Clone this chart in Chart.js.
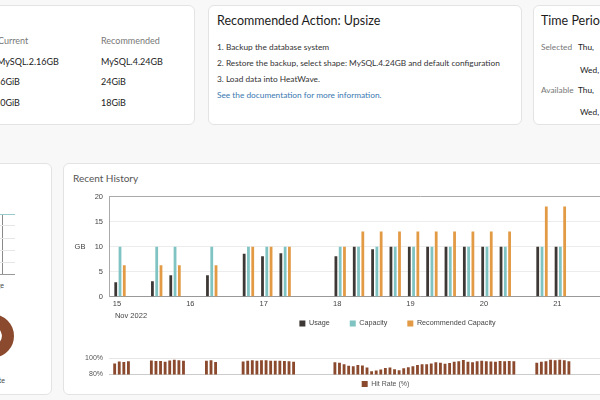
<!DOCTYPE html>
<html>
<head>
<meta charset="utf-8">
<script src="https://cdn.jsdelivr.net/npm/chart.js@4.4.1/dist/chart.umd.min.js"></script>
<style>
  html, body { margin: 0; padding: 0; }
  body { width: 600px; height: 400px; overflow: hidden; position: relative; background: #f8f8f8; font-family: Lato, "Noto Sans", sans-serif; color: #222; }
  .card { position: absolute; background: #fff; border: 1px solid #e3e3e3; border-radius: 6px; box-sizing: border-box; }
  .t { position: absolute; white-space: nowrap; line-height: 12px; }
  .lbl { color: #777; }
  canvas { position: absolute; }
</style>
</head>
<body>
<!-- tarjetas superiores -->
<div class="card" style="left:-20px; top:5px; width:215px; height:120px;"></div>
<div class="t lbl" style="left:-2px; top:35px; font-size:9px;">Current</div>
<div class="t lbl" style="left:101px; top:35px; font-size:9px;">Recommended</div>
<div class="t" style="left:-3px; top:56px; font-size:9px;">MySQL.2.16GB</div>
<div class="t" style="left:101px; top:56px; font-size:9px;">MySQL.4.24GB</div>
<div class="t" style="left:-5px; top:76px; font-size:9px;">16GiB</div>
<div class="t" style="left:101px; top:76px; font-size:9px;">24GiB</div>
<div class="t" style="left:-5px; top:97px; font-size:9px;">10GiB</div>
<div class="t" style="left:101px; top:97px; font-size:9px;">18GiB</div>

<div class="card" style="left:208px; top:5px; width:314px; height:120px;"></div>
<div class="t" style="left:217px; top:15px; font-size:12.5px; color:#1c1c1c;">Recommended Action: Upsize</div>
<div class="t" style="left:217px; top:41px; font-size:8.3px; color:#333;">1. Backup the database system</div>
<div class="t" style="left:217px; top:57px; font-size:8.3px; color:#333;">2. Restore the backup, select shape: MySQL.4.24GB and default configuration</div>
<div class="t" style="left:217px; top:73px; font-size:8.3px; color:#333;">3. Load data into HeatWave.</div>
<div class="t" style="left:217px; top:89px; font-size:8.3px; color:#3a78b0;">See the documentation for more information.</div>

<div class="card" style="left:533px; top:5px; width:120px; height:120px;"></div>
<div class="t" style="left:541px; top:15px; font-size:12.5px; color:#1c1c1c;">Time Period</div>
<div class="t lbl" style="left:541px; top:41px; font-size:8.3px;">Selected</div>
<div class="t" style="left:578px; top:41px; font-size:8.3px;">Thu,&nbsp;&nbsp;&nbsp;&nbsp;Nov 10, 2022</div>
<div class="t" style="left:580px; top:64px; font-size:8.3px;">Wed,&nbsp;&nbsp;&nbsp;Nov 23, 2022</div>
<div class="t lbl" style="left:541px; top:84px; font-size:8.3px;">Available</div>
<div class="t" style="left:578px; top:84px; font-size:8.3px;">Thu,&nbsp;&nbsp;&nbsp;&nbsp;Nov 10, 2022</div>
<div class="t" style="left:580px; top:106px; font-size:8.3px;">Wed,&nbsp;&nbsp;&nbsp;Nov 23, 2022</div>

<!-- tarjeta izquierda (recortada) -->
<div class="card" style="left:-20px; top:163px; width:72px; height:232px;"></div>
<canvas id="mini" width="132" height="64" style="left:-115px; top:212px;"></canvas>
<div class="t" style="left:-60px; width:64px; text-align:right; top:279px; font-size:7px; color:#444;">Usage</div>
<canvas id="dona" width="64" height="44" style="left:-40px; top:314px;"></canvas>
<div class="t" style="left:-60px; width:65px; text-align:right; top:374px; font-size:7px; color:#444;">Hit Rate</div>

<!-- historial reciente -->
<div class="card" style="left:63px; top:163px; width:720px; height:232px;"></div>
<div class="t" style="left:73px; top:172px; font-size:10px; color:#555;">Recent History</div>
<canvas id="historial" width="667" height="151" style="left:64px; top:186px;"></canvas>
<canvas id="aciertos" width="667" height="48" style="left:64px; top:348px;"></canvas>

<script>
// Datos (horas desde el 15 Nov 2022 00:00)
const sampleHours = [1, 13, 19, 31, 43, 49, 55, 73, 79, 85, 91, 97, 103, 109, 115, 121, 127, 139, 145];
const usageGB = [2.9, 3.1, 4.3, 4.3, 8.6, 8.1, 8.7, 8.1, 10, 9.5, 10, 10, 10, 10, 10, 10, 10, 10, 10];
const capacityGB = [10, 10, 10, 10, 10, 10, 10, 10, 10, 10, 10, 10, 10, 10, 10, 10, 10, 10, 10];
const recommendedGB = [6.3, 6.3, 6.3, 6.3, 10, 10, 10, 10, 13, 13, 13, 13, 13, 13, 13, 13, 13, 18, 18];
const dayTickHours = [0, 24, 48, 72, 96, 120, 144, 168, 192];
const dayTicks = ['15', '16', '17', '18', '19', '20', '21', '22', '23'];

const hitHours = [
  -0.75, 0.75, 2.25, 3.75, 11.25, 12.75, 14.25, 15.75, 17.25, 18.75, 20.25, 21.75,
  29.25, 30.75, 32.25, 41.25, 42.75, 44.25, 45.75, 47.25, 48.75, 50.25, 51.75,
  53.25, 54.75, 56.25, 57.75, 71.25, 72.75, 74.25, 75.75, 77.25, 78.75, 80.25, 81.75,
  83.25, 84.75, 86.25, 87.75, 89.25, 90.75, 92.25, 93.75, 95.25, 96.75, 98.25, 99.75,
  101.25, 102.75, 104.25, 105.75, 107.25, 108.75, 110.25, 111.75, 113.25, 114.75, 116.25, 117.75,
  119.25, 120.75, 122.25, 123.75, 125.25, 126.75, 128.25, 129.75,
  137.25, 138.75, 140.25, 141.75, 143.25, 144.75, 146.25, 147.75
];
const hitRate = [
  93.6, 95.8, 95.4, 96.2, 97.2, 96.6, 96.6, 95.5, 97.2, 98.0, 97.4, 96.8,
  96.8, 97.6, 95.2, 95.8, 97.0, 97.4, 97.0, 97.4, 97.4, 97.0, 97.0,
  97.0, 96.6, 96.2, 95.5, 95.1, 94.3, 92.5, 90.8, 90.0, 91.6, 91.0, 88.6,
  84.0, 85.0, 86.0, 88.0, 88.5, 86.5, 85.2, 87.8, 89.0, 90.2, 91.6, 92.5,
  92.5, 93.6, 95.1, 94.3, 93.2, 94.2, 95.5, 96.2, 97.8, 95.5, 95.0, 96.4,
  97.0, 96.4, 96.0, 95.6, 96.6, 96.2, 96.6, 96.2,
  94.3, 95.5, 96.2, 98.0, 97.4, 98.1, 97.4, 96.2
];

// panel izquierdo recortado
const miniSteps = [0, 1, 2, 3, 4, 5, 6, 7, 8, 9, 10];
const miniCapacity = [100, 100, 100, 100, 100, 100, 100, 100, 100, 100, 100];
const overallHitRate = [96.2, 3.8];

Chart.defaults.font.family = '"Liberation Sans", Arial, sans-serif';
Chart.defaults.color = '#444';

const xMin = -2.6;

function toPoints(xs, ys) {
  return xs.map(function(x, i) { return { x: x, y: ys[i] }; });
}

// "GB" y "Nov 2022" junto a los ejes
const notasEjes = {
  id: 'notasEjes',
  afterDraw: function(chart) {
    const ctx = chart.ctx;
    const x = chart.scales.x, y = chart.scales.y;
    ctx.save();
    ctx.font = '7.5px "Liberation Sans", Arial, sans-serif';
    ctx.fillStyle = '#444';
    ctx.textBaseline = 'middle';
    ctx.textAlign = 'center';
    ctx.fillText('GB', 16, y.getPixelForValue(10));
    ctx.textAlign = 'left';
    ctx.fillText('Nov 2022', x.getPixelForValue(0) - 2, x.top + 19);
    ctx.restore();
  }
};

new Chart(document.getElementById('historial'), {
  type: 'bar',
  data: {
    datasets: [
      { label: 'Usage', data: toPoints(sampleHours, usageGB), backgroundColor: '#3d3835' },
      { label: 'Capacity', data: toPoints(sampleHours, capacityGB), backgroundColor: '#7fc4c2' },
      { label: 'Recommended Capacity', data: toPoints(sampleHours, recommendedGB), backgroundColor: '#e29a45' }
    ]
  },
  options: {
    responsive: false,
    animation: false,
    devicePixelRatio: 1,
    events: [],
    categoryPercentage: 0.7,
    barPercentage: 0.65,
    layout: { padding: { top: 10, left: 0, right: 0, bottom: 0 } },
    plugins: {
      legend: {
        position: 'bottom',
        labels: { boxWidth: 6, boxHeight: 6, padding: 20, font: { size: 7.2 }, color: '#444' }
      },
      tooltip: { enabled: false }
    },
    scales: {
      x: {
        type: 'linear',
        min: xMin,
        max: 200.8,
        offset: false,
        grid: { display: false, drawTicks: false },
        border: { color: '#999' },
        afterBuildTicks: function(scale) {
          scale.ticks = dayTickHours.map(function(h) { return { value: h }; });
        },
        ticks: {
          autoSkip: false,
          maxRotation: 0,
          padding: 3,
          font: { size: 7.5 },
          color: '#444',
          callback: function(v) { return dayTicks[dayTickHours.indexOf(v)]; }
        },
        afterFit: function(scale) {
          // eje muy bajo para que la leyenda quede pegada; sin recorte de etiquetas
          scale.height = 3;
          scale._computeLabelArea = function() { return undefined; };
        }
      },
      y: {
        min: 0,
        max: 20,
        grid: {
          drawTicks: false,
          color: function(c) { return c.tick.value === 20 ? '#aaa' : '#ececec'; }
        },
        border: { color: '#aaa' },
        ticks: { stepSize: 5, padding: 6, font: { size: 7.5 }, color: '#444' },
        afterFit: function(scale) { scale.width = 45; }
      }
    }
  },
  plugins: [notasEjes]
});

new Chart(document.getElementById('aciertos'), {
  type: 'bar',
  data: {
    datasets: [
      { label: 'Hit Rate (%)', data: toPoints(hitHours, hitRate), backgroundColor: '#8b4a2e' }
    ]
  },
  options: {
    responsive: false,
    animation: false,
    devicePixelRatio: 1,
    events: [],
    categoryPercentage: 1,
    barPercentage: 0.62,
    layout: { padding: { top: 7, left: 0, right: 24, bottom: 0 } },
    plugins: {
      legend: {
        position: 'bottom',
        labels: { boxWidth: 6, boxHeight: 6, padding: 5, font: { size: 7 }, color: '#555' }
      },
      tooltip: { enabled: false }
    },
    scales: {
      x: {
        type: 'linear',
        min: xMin,
        max: 192.9,
        offset: false,
        grid: { display: false },
        border: { color: '#ccc' },
        ticks: { display: false },
        afterFit: function(scale) { scale.height = 1; }
      },
      y: {
        min: 80,
        max: 100,
        grid: {
          drawTicks: false,
          color: function(c) { return c.tick.value === 100 ? '#e6e6e6' : '#ccc'; }
        },
        border: { display: false },
        ticks: {
          stepSize: 20, padding: 6, font: { size: 7 }, color: '#555',
          callback: function(v) { return v + '%'; }
        },
        afterFit: function(scale) { scale.width = 45; }
      }
    }
  }
});

new Chart(document.getElementById('mini'), {
  type: 'line',
  data: {
    datasets: [
      { label: 'Capacity', data: toPoints(miniSteps, miniCapacity), borderColor: '#7fc4c2', borderWidth: 1.5, pointRadius: 0 }
    ]
  },
  options: {
    responsive: false,
    animation: false,
    devicePixelRatio: 1,
    events: [],
    layout: { padding: { top: 2, bottom: 2, left: 0, right: 2 } },
    plugins: { legend: { display: false }, tooltip: { enabled: false } },
    scales: {
      x: {
        type: 'linear', min: 0, max: 10,
        ticks: { display: false, stepSize: 1 },
        border: { display: false },
        grid: { drawTicks: false, color: function(c) { return c.tick.value === 9 ? '#8a8a8a' : 'rgba(0,0,0,0)'; } },
        afterFit: function(scale) { scale.height = 0; }
      },
      y: {
        min: 0, max: 100,
        ticks: { display: false, stepSize: 20 },
        border: { display: false },
        grid: { drawTicks: false, color: function(c) { return c.tick.value === 0 ? '#999' : '#e6e6e6'; } },
        afterFit: function(scale) { scale.width = 0; }
      }
    }
  }
});

new Chart(document.getElementById('dona'), {
  type: 'doughnut',
  data: {
    labels: ['Hit', 'Miss'],
    datasets: [{ data: overallHitRate, backgroundColor: ['#8b4a2e', '#e8e8e8'], borderWidth: 0 }]
  },
  options: {
    responsive: false,
    animation: false,
    devicePixelRatio: 1,
    events: [],
    cutout: '45%',
    plugins: { legend: { display: false }, tooltip: { enabled: false } }
  }
});
</script>
</body>
</html>
